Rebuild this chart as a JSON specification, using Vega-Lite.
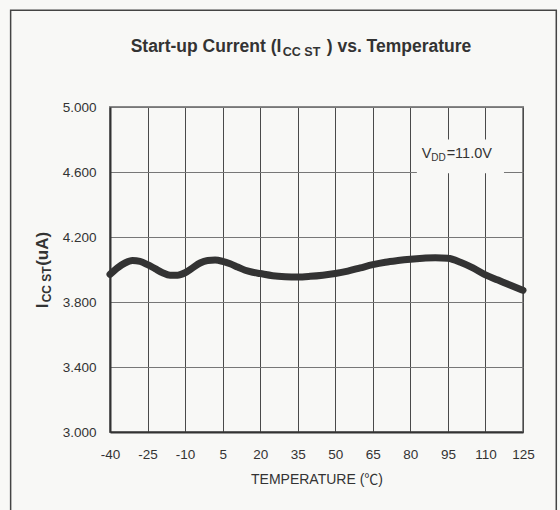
{
  "$schema": "https://vega.github.io/schema/vega-lite/v6.json",
  "width": 413,
  "height": 325,
  "autosize": {"type": "none"},
  "padding": {"left": 110, "top": 107, "right": 37, "bottom": 78},
  "background": "#f8f8f6",
  "config": {
    "font": "Liberation Sans",
    "view": {"stroke": "#888888", "strokeWidth": 2},
    "axisX": {
      "grid": true, "gridColor": "#4a4a4a", "gridWidth": 1, "tickCount": 30,
      "ticks": false, "domain": true, "domainColor": "#333333", "domainWidth": 2,
      "labelFont": "Liberation Sans", "labelFontSize": 13.5, "labelColor": "#333333",
      "labelPadding": 15, "labelFlush": false, "labelOverlap": false, "labelBound": false,
      "titleFont": "Liberation Sans, Noto Sans CJK SC", "titleFontSize": 14,
      "titleFontWeight": "normal", "titleColor": "#333333", "titlePadding": 12
    },
    "axisY": {
      "grid": true, "gridColor": "#777777", "gridWidth": 1, "tickCount": 30,
      "ticks": false, "domain": true, "domainColor": "#333333", "domainWidth": 2,
      "labelFont": "Liberation Sans", "labelFontSize": 13.5, "labelColor": "#333333",
      "labelPadding": 14, "labelFlush": false, "labelOverlap": false, "labelBound": false
    }
  },
  "layer": [
    {
      "data": {"values": [
        {"T": -40, "I": 3.97}, {"T": -37, "I": 4.01}, {"T": -34, "I": 4.04}, {"T": -31, "I": 4.055},
        {"T": -28, "I": 4.05}, {"T": -25, "I": 4.03}, {"T": -22, "I": 4.005}, {"T": -19, "I": 3.98},
        {"T": -16, "I": 3.965}, {"T": -13, "I": 3.965}, {"T": -10, "I": 3.98}, {"T": -7, "I": 4.01},
        {"T": -4, "I": 4.04}, {"T": -1, "I": 4.055}, {"T": 2, "I": 4.058}, {"T": 5, "I": 4.05},
        {"T": 8, "I": 4.035}, {"T": 11, "I": 4.015}, {"T": 14, "I": 3.995}, {"T": 17, "I": 3.983},
        {"T": 20, "I": 3.975}, {"T": 25, "I": 3.962}, {"T": 30, "I": 3.956}, {"T": 35, "I": 3.954},
        {"T": 40, "I": 3.958}, {"T": 45, "I": 3.965}, {"T": 50, "I": 3.975}, {"T": 55, "I": 3.99},
        {"T": 60, "I": 4.01}, {"T": 65, "I": 4.03}, {"T": 70, "I": 4.045}, {"T": 75, "I": 4.055},
        {"T": 80, "I": 4.063}, {"T": 85, "I": 4.069}, {"T": 90, "I": 4.073}, {"T": 95, "I": 4.069},
        {"T": 100, "I": 4.045}, {"T": 105, "I": 4.01}, {"T": 110, "I": 3.967}, {"T": 115, "I": 3.935},
        {"T": 120, "I": 3.903}, {"T": 125, "I": 3.872}
      ]},
      "mark": {"type": "line", "interpolate": "monotone", "color": "#333333", "strokeWidth": 7, "strokeCap": "round"},
      "encoding": {
        "x": {
          "field": "T", "type": "quantitative",
          "scale": {"domain": [-40, 125], "nice": false, "zero": false},
          "axis": {
            "values": [-40, -25, -10, 5, 20, 35, 50, 65, 80, 95, 110, 125],
            "tickCount": 30,
            "labelExpr": "datum.value < 0 ? '-' + abs(datum.value) : '' + datum.value",
            "title": "TEMPERATURE (℃)"
          }
        },
        "y": {
          "field": "I", "type": "quantitative",
          "scale": {"domain": [3, 5], "nice": false, "zero": false},
          "axis": {
            "values": [3, 3.4, 3.8, 4.2, 4.6, 5], "format": ".3f", "tickCount": 30,
            "title": null
          }
        }
      }
    },
    {
      "data": {"values": [{"item": "frame"}]},
      "mark": {"type": "rect", "filled": false, "stroke": "#444444", "strokeWidth": 1.5},
      "encoding": {
        "x": {"datum": -79.7, "type": "quantitative", "scale": {"domain": [-40, 125], "nice": false, "zero": false}},
        "x2": {"datum": 138.3},
        "y": {"datum": 5.595, "type": "quantitative", "scale": {"domain": [3, 5], "nice": false, "zero": false}},
        "y2": {"datum": 2.4}
      }
    },
    {
      "data": {"values": [{"item": "label box"}]},
      "mark": {"type": "rect", "fill": "#f8f8f6", "stroke": null},
      "encoding": {
        "x": {"datum": 82.6, "type": "quantitative", "scale": {"domain": [-40, 125], "nice": false, "zero": false}},
        "x2": {"datum": 117.4},
        "y": {"datum": 4.80, "type": "quantitative", "scale": {"domain": [3, 5], "nice": false, "zero": false}},
        "y2": {"datum": 4.592}
      }
    },
    {
      "data": {"values": [{"label": "V"}]},
      "mark": {"type": "text", "align": "left", "baseline": "alphabetic", "fontSize": 14.5, "color": "#333333", "font": "Liberation Sans"},
      "encoding": {
        "x": {"datum": 84.5, "type": "quantitative", "scale": {"domain": [-40, 125], "nice": false, "zero": false}},
        "y": {"datum": 4.689, "type": "quantitative", "scale": {"domain": [3, 5], "nice": false, "zero": false}},
        "text": {"field": "label"}
      }
    },
    {
      "data": {"values": [{"label": "DD"}]},
      "mark": {"type": "text", "align": "left", "baseline": "alphabetic", "fontSize": 10, "dx": 9.7, "dy": 3.5, "color": "#333333", "font": "Liberation Sans"},
      "encoding": {
        "x": {"datum": 84.5, "type": "quantitative", "scale": {"domain": [-40, 125], "nice": false, "zero": false}},
        "y": {"datum": 4.689, "type": "quantitative", "scale": {"domain": [3, 5], "nice": false, "zero": false}},
        "text": {"field": "label"}
      }
    },
    {
      "data": {"values": [{"label": "=11.0V"}]},
      "mark": {"type": "text", "align": "left", "baseline": "alphabetic", "fontSize": 14.5, "dx": 25, "color": "#333333", "font": "Liberation Sans"},
      "encoding": {
        "x": {"datum": 84.5, "type": "quantitative", "scale": {"domain": [-40, 125], "nice": false, "zero": false}},
        "y": {"datum": 4.689, "type": "quantitative", "scale": {"domain": [3, 5], "nice": false, "zero": false}},
        "text": {"field": "label"}
      }
    },
    {
      "data": {"values": [{"label": "Start-up Current (I"}]},
      "mark": {"type": "text", "align": "right", "baseline": "alphabetic", "fontSize": 17.5, "fontWeight": "bold", "dx": -1, "color": "#333333", "font": "Liberation Sans"},
      "encoding": {
        "x": {"datum": 28.85, "type": "quantitative", "scale": {"domain": [-40, 125], "nice": false, "zero": false}},
        "y": {"datum": 5.338, "type": "quantitative", "scale": {"domain": [3, 5], "nice": false, "zero": false}},
        "text": {"field": "label"}
      }
    },
    {
      "data": {"values": [{"label": "CC ST"}]},
      "mark": {"type": "text", "align": "left", "baseline": "alphabetic", "fontSize": 12.5, "fontWeight": "bold", "dx": 0.5, "dy": 4, "color": "#333333", "font": "Liberation Sans"},
      "encoding": {
        "x": {"datum": 28.85, "type": "quantitative", "scale": {"domain": [-40, 125], "nice": false, "zero": false}},
        "y": {"datum": 5.338, "type": "quantitative", "scale": {"domain": [3, 5], "nice": false, "zero": false}},
        "text": {"field": "label"}
      }
    },
    {
      "data": {"values": [{"label": ") vs. Temperature"}]},
      "mark": {"type": "text", "align": "left", "baseline": "alphabetic", "fontSize": 17.5, "fontWeight": "bold", "dx": 44.4, "color": "#333333", "font": "Liberation Sans"},
      "encoding": {
        "x": {"datum": 28.85, "type": "quantitative", "scale": {"domain": [-40, 125], "nice": false, "zero": false}},
        "y": {"datum": 5.338, "type": "quantitative", "scale": {"domain": [3, 5], "nice": false, "zero": false}},
        "text": {"field": "label"}
      }
    },
    {
      "data": {"values": [{"label": "I"}]},
      "mark": {"type": "text", "align": "left", "baseline": "alphabetic", "angle": 270, "fontSize": 17, "fontWeight": "bold", "color": "#333333", "font": "Liberation Sans"},
      "encoding": {
        "x": {"datum": -64.8, "type": "quantitative", "scale": {"domain": [-40, 125], "nice": false, "zero": false}},
        "y": {"datum": 3.761, "type": "quantitative", "scale": {"domain": [3, 5], "nice": false, "zero": false}},
        "text": {"field": "label"}
      }
    },
    {
      "data": {"values": [{"label": "CC ST"}]},
      "mark": {"type": "text", "align": "left", "baseline": "alphabetic", "angle": 270, "fontSize": 12, "fontWeight": "bold", "dx": 6, "dy": 3.5, "color": "#333333", "font": "Liberation Sans"},
      "encoding": {
        "x": {"datum": -64.8, "type": "quantitative", "scale": {"domain": [-40, 125], "nice": false, "zero": false}},
        "y": {"datum": 3.761, "type": "quantitative", "scale": {"domain": [3, 5], "nice": false, "zero": false}},
        "text": {"field": "label"}
      }
    },
    {
      "data": {"values": [{"label": "(uA)"}]},
      "mark": {"type": "text", "align": "left", "baseline": "alphabetic", "angle": 270, "fontSize": 17, "fontWeight": "bold", "dx": 42.5, "color": "#333333", "font": "Liberation Sans"},
      "encoding": {
        "x": {"datum": -64.8, "type": "quantitative", "scale": {"domain": [-40, 125], "nice": false, "zero": false}},
        "y": {"datum": 3.761, "type": "quantitative", "scale": {"domain": [3, 5], "nice": false, "zero": false}},
        "text": {"field": "label"}
      }
    }
  ]
}
